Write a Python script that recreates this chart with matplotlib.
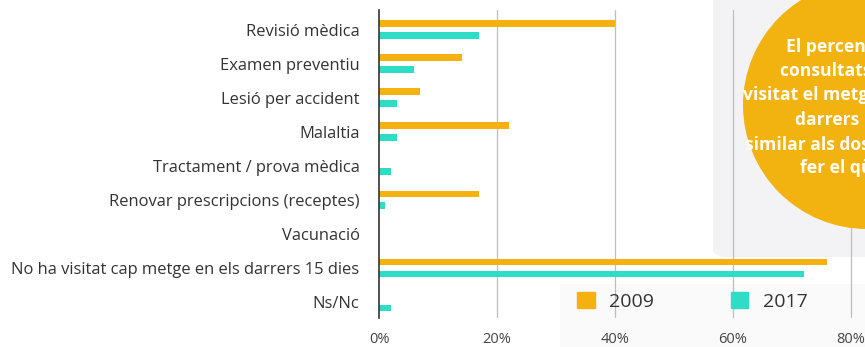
import numpy as np
import matplotlib.pyplot as plt
from matplotlib.patches import Circle, Rectangle, FancyBboxPatch

plt.rcParams['font.family'] = ['Open Sans', 'DejaVu Sans']

categories = ['Revisió mèdica', 'Examen preventiu', 'Lesió per accident', 'Malaltia',
              'Tractament / prova mèdica', 'Renovar prescripcions (receptes)', 'Vacunació',
              'No ha visitat cap metge en els darrers 15 dies', 'Ns/Nc']
vals_2009 = [40, 14, 7, 22, 0, 17, 0, 76, 0]
vals_2017 = [17, 6, 3, 3, 2, 1, 0, 72, 2]
xticks = [0, 20, 40, 60, 80]
series_names = ['2009', '2017']

note_lines = ['El percentatge de', 'consultats que no han', 'visitat el metge els',
              'darrers 15 dies és', 'similar als dos anys de', 'fer el qüestionari']

ORANGE = '#F4B10F'
TEAL = '#2FDCC6'
W, H = 865, 347

fig = plt.figure(figsize=(W / 100, H / 100), dpi=100)
fig.patch.set_facecolor('white')

# light side panel behind the right part of the chart
fig.patches.append(FancyBboxPatch((713 / W, 1 - 257 / H), 0.3, 0.8,
                                  boxstyle='round,pad=0,rounding_size=0.02',
                                  transform=fig.transFigure, facecolor='#F3F3F5',
                                  edgecolor='none', zorder=-2))
fig.patches.append(Rectangle((560 / W, 0), 1, 1 - 284 / H, transform=fig.transFigure,
                             facecolor='#FAFAFA', edgecolor='none', zorder=-2))

ax = fig.add_axes([379 / W, 1 - 318 / H, 1 - 379 / W, 308 / H])
ax.set_facecolor('none')

y = np.arange(len(categories))
off = 0.175
h = 0.2
ax.barh(y - off, vals_2009, height=h, color=ORANGE, zorder=3, label=series_names[0])
ax.barh(y + off, vals_2017, height=h, color=TEAL, zorder=3, label=series_names[1])

ax.set_xlim(0, (W - 379) / 5.9)
ax.set_ylim(len(categories) - 0.53, -0.58)
ax.set_xticks(xticks)
ax.set_xticklabels([f'{v}%' for v in xticks], fontsize=10.5, color='#444444')
ax.set_yticks(y)
ax.set_yticklabels(categories, fontsize=11.9, color='#333333')
ax.tick_params(axis='both', length=0)
ax.tick_params(axis='x', pad=10)
ax.tick_params(axis='y', pad=14)
for v in xticks[1:]:
    ax.axvline(v, color='#BDBDBD', lw=0.9, zorder=1)
for s in ['top', 'right', 'bottom']:
    ax.spines[s].set_visible(False)
ax.spines['left'].set_color('#333333')
ax.spines['left'].set_linewidth(1.2)
ax.spines['left'].set_zorder(4)

handles = [Rectangle((0, 0), 1, 1, color=ORANGE), Rectangle((0, 0), 1, 1, color=TEAL)]
ax.legend(handles, series_names, loc='center left', ncol=2, frameon=False,
          bbox_to_anchor=(577 / W, 1 - 301.5 / H), bbox_transform=fig.transFigure,
          fontsize=14, handlelength=0.9, handleheight=0.9, handletextpad=0.75,
          columnspacing=3.95, borderpad=0, borderaxespad=0, labelcolor='#333333')

# callout bubble on the right edge (display coords, origin bottom-left)
fig.patches.append(Circle((867, H - 105), 124, transform=None, facecolor='#F2B20F',
                          edgecolor='none', zorder=5))
starts = [786, 780, 743, 795, 745, 800]
ys = [47, 71, 95, 120, 145, 168]
for txt, x0, y0 in zip(note_lines, starts, ys):
    fig.text(x0 / W, 1 - y0 / H, txt, ha='left', va='center', color='#FFFDF5',
             fontsize=12.6, fontweight='bold', zorder=6)

fig.savefig('out.png', dpi=100)
